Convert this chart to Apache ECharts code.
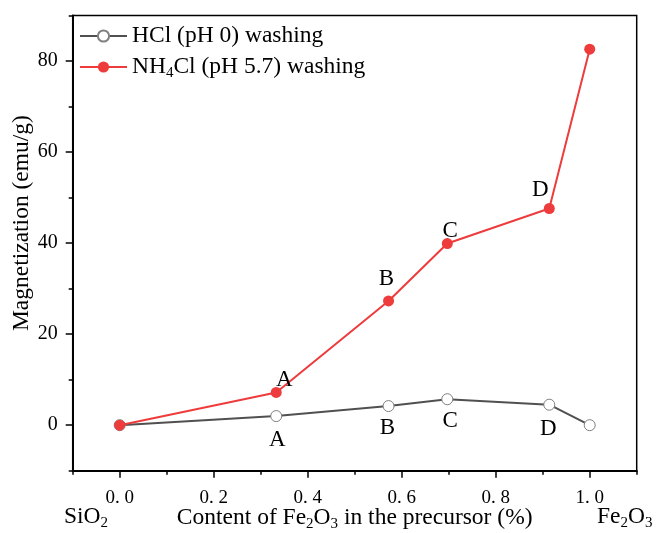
<!DOCTYPE html>
<html><head><meta charset="utf-8">
<script src="https://cdn.jsdelivr.net/npm/echarts@6/dist/echarts.min.js"></script>
<style>html,body{margin:0;padding:0;background:#fff}#c{width:657px;height:533px}</style>
</head><body><div id="c"></div>
<script>
// ---- data ----
const xContent = [0, 0.333, 0.572, 0.697, 0.914, 1.0];
const hclValues = [0, 2.0, 4.2, 5.7, 4.5, 0];
const nh4clValues = [0, 7.2, 27.3, 39.9, 47.6, 82.6];
const hclPointLabels = ['', 'A', 'B', 'C', 'D', ''];
const nh4clPointLabels = ['', 'A', 'B', 'C', 'D', ''];
const xTickValues = [0, 0.2, 0.4, 0.6, 0.8, 1.0];
const yTickValues = [0, 20, 40, 60, 80];
const seriesNames = ['HCl (pH 0) washing', 'NH4Cl (pH 5.7) washing'];

// ---- style ----
const FONT = "'Liberation Serif', 'Times New Roman', serif";
const hclLabelOffsets = [[0,0],[1,24],[-1,22],[3,21.5],[-1,24],[0,0]];
const nhLabelOffsets = [[0,0],[8,-12],[-2,-22],[3,-13],[-9,-19],[0,0]];
const RED = '#EE3B3B';
const GRAY = '#505050';

const rich = {
  n: {fontSize: 23.5, fontFamily: FONT, color: '#000', lineHeight: 28},
  s: {fontSize: 15, fontFamily: FONT, color: '#000', lineHeight: 15, verticalAlign: 'bottom'}
};

function buildData(vals, labels, offsets) {
  return xContent.map((x, i) => ({
    value: [x, vals[i]],
    label: {formatter: labels[i], offset: offsets[i]}
  }));
}

const chart = echarts.init(document.getElementById('c'), null, {renderer: 'canvas'});
const option = {
  animation: false,
  backgroundColor: '#fff',
  grid: {left: 72.7, right: 20.3, top: 15.5, bottom: 62.3, containLabel: false, outerBoundsMode: 'none',
    show: true, borderColor: '#000', borderWidth: 1.5},
  legend: {
    orient: 'vertical', left: 79, top: 24, padding: 0, itemWidth: 47, itemHeight: 14, itemGap: 7,
    data: seriesNames,
    formatter: function (name) {
      if (name === seriesNames[1]) return '{n|NH}{s|4}{n|Cl (pH 5.7) washing}';
      return '{n|' + name + '}';
    },
    textStyle: {rich: rich, fontFamily: FONT, fontSize: 23.5}
  },
  xAxis: [{
    type: 'value', min: -0.1, max: 1.1, position: 'bottom',
    name: '{n|Content of Fe}{s|2}{n|O}{s|3}{n| in the precursor (%)}',
    nameLocation: 'middle', nameGap: 33, nameMoveOverlap: false,
    nameTextStyle: {rich: rich},
    axisLine: {show: true, onZero: false, lineStyle: {color: '#000', width: 2}},
    axisTick: {show: true, inside: false, length: 7, lineStyle: {color: '#000', width: 1.5}, customValues: xTickValues},
    axisLabel: {customValues: xTickValues, fontFamily: FONT, fontSize: 19, color: '#000', margin: 18,
      formatter: v => v.toFixed(1).replace('.', '. ')},
    splitLine: {show: false}
  }, {
    type: 'value', min: -0.1, max: 1.1, interval: 0.1, position: 'bottom', offset: 0,
    axisLine: {show: false, onZero: false},
    axisTick: {show: true, inside: false, length: 4, lineStyle: {color: '#000', width: 1.5}},
    axisLabel: {show: false},
    splitLine: {show: false}
  }],
  yAxis: [{
    type: 'value', min: -10, max: 90, position: 'left',
    name: 'Magnetization (emu/g)', nameLocation: 'middle', nameGap: 39, nameMoveOverlap: false,
    nameTextStyle: {fontFamily: FONT, fontSize: 23.5, color: '#000', padding: [0, 0, 0, 40]},
    axisLine: {show: true, onZero: false, lineStyle: {color: '#000', width: 2}},
    axisTick: {show: true, inside: false, length: 7, lineStyle: {color: '#000', width: 1.5}, customValues: yTickValues},
    axisLabel: {customValues: yTickValues, fontFamily: FONT, fontSize: 20, color: '#000', margin: 15},
    splitLine: {show: false}
  }, {
    type: 'value', min: -10, max: 90, interval: 10, position: 'left', offset: 0,
    axisLine: {show: false, onZero: false},
    axisTick: {show: true, inside: false, length: 4, lineStyle: {color: '#000', width: 1.5}},
    axisLabel: {show: false},
    splitLine: {show: false}
  }],
  series: [{
    name: seriesNames[0], type: 'line', xAxisIndex: 0, yAxisIndex: 0,
    data: buildData(hclValues, hclPointLabels, hclLabelOffsets),
    symbol: 'circle', symbolSize: 11, showAllSymbol: true,
    lineStyle: {color: GRAY, width: 2},
    itemStyle: {color: '#fff', borderColor: '#808080', borderWidth: 1},
    label: {show: true, position: 'inside', fontFamily: FONT, fontSize: 23, color: '#000'},
    z: 2
  }, {
    name: seriesNames[1], type: 'line', xAxisIndex: 0, yAxisIndex: 0,
    data: buildData(nh4clValues, nh4clPointLabels, nhLabelOffsets),
    symbol: 'circle', symbolSize: 11, showAllSymbol: true,
    lineStyle: {color: RED, width: 2},
    itemStyle: {color: RED, borderColor: RED, borderWidth: 0},
    label: {show: true, position: 'inside', fontFamily: FONT, fontSize: 23, color: '#000'},
    z: 3
  }],
  graphic: [{
    type: 'text', left: 64, top: 505,
    style: {text: '{n|SiO}{s|2}', rich: rich}
  }, {
    type: 'text', left: 597, top: 505,
    style: {text: '{n|Fe}{s|2}{n|O}{s|3}', rich: rich}
  }]
};
chart.setOption(option);
</script>
</body></html>
